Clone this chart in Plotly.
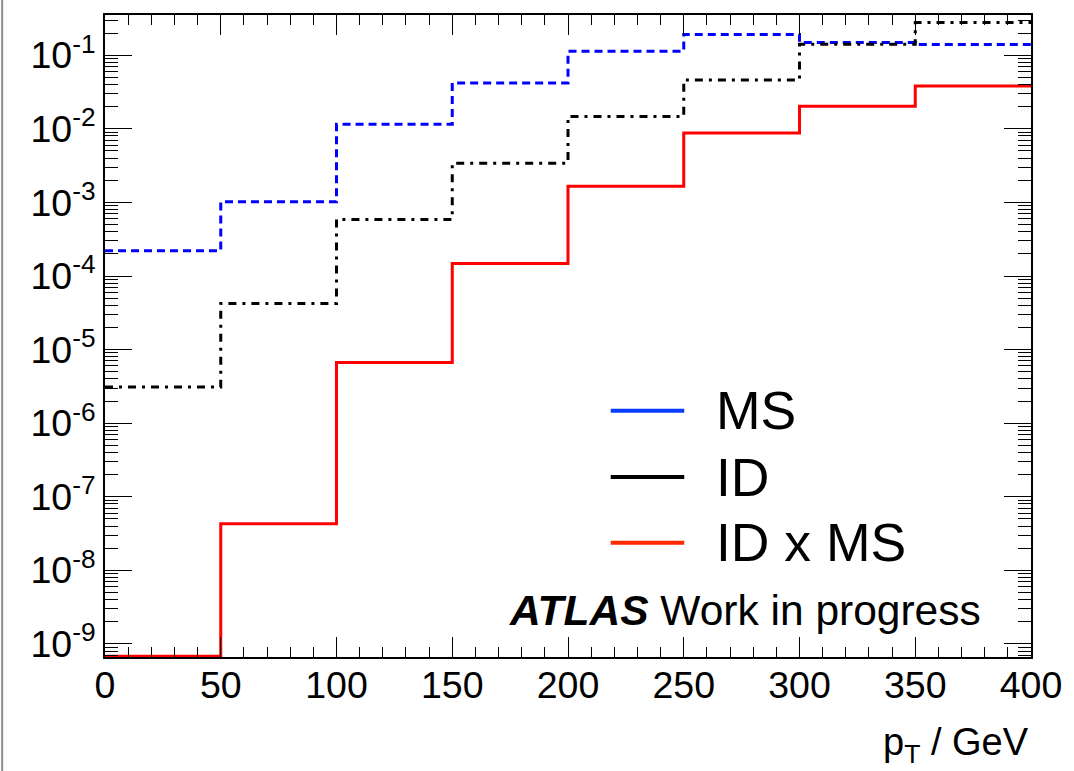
import math
import plotly.graph_objects as go

# Histogram binning in pT (GeV)
bin_edges = [0, 50, 100, 150, 200, 250, 300, 350, 400]

# Per-bin efficiencies
ms_eff = [2.2e-4, 1.02e-3, 1.15e-2, 4.2e-2, 0.113, 0.191, 0.149, 0.140]
id_eff = [3.1e-6, 4.24e-5, 5.87e-4, 3.41e-3, 1.47e-2, 4.62e-2, 0.141, 0.278]
idms_eff = [6.8e-10, 4.3e-8, 6.7e-6, 1.48e-4, 1.66e-3, 8.8e-3, 2.03e-2, 3.83e-2]

series_names = ["MS", "ID", "ID x MS"]
decade_exponents = [-9, -8, -7, -6, -5, -4, -3, -2, -1]
x_major_ticks = [0, 50, 100, 150, 200, 250, 300, 350, 400]

W, H = 1074, 771
ML, MR, MT, MB = 105, 37, 15, 114
PW, PH = W - ML - MR, H - MT - MB


def px_x(px):
    return (px - ML) / PW


def px_y(py):
    return (H - MB - py) / PH


def step_y(vals):
    return list(vals) + [vals[-1]]


FONT = "Liberation Sans, Arial, Helvetica, sans-serif"

fig = go.Figure()

styles = [
    dict(color="#0000ff", width=3, dash="8px,5px"),
    dict(color="#000000", width=3, dash="8px,6px,3px,6px"),
    dict(color="#ff0000", width=3, dash="solid"),
]
for name, vals, st in zip(series_names, [ms_eff, id_eff, idms_eff], styles):
    fig.add_trace(go.Scatter(
        x=bin_edges, y=step_y(vals), mode="lines", name=name,
        line=dict(shape="hv", **st), showlegend=False,
    ))

y_lo, y_hi = math.log10(6.65e-10), math.log10(0.352)

minor_y = [m * 10 ** d for d in range(-10, 0) for m in range(2, 10)
           if y_lo < math.log10(m * 10 ** d) < y_hi]

fig.update_xaxes(
    range=[0, 400], tickvals=x_major_ticks,
    ticks="inside", ticklen=20, tickwidth=1, tickcolor="black",
    minor=dict(dtick=10, ticks="inside", ticklen=10, tickwidth=1, tickcolor="black", showgrid=False),
    showline=True, linewidth=2, linecolor="black", mirror="allticks",
    showgrid=False, zeroline=False, ticklabelstandoff=-6,
    tickfont=dict(family=FONT, size=37.5, color="black"),
)
fig.update_yaxes(
    type="log", range=[y_lo, y_hi],
    tickvals=[10 ** d for d in decade_exponents],
    ticktext=[f"10<sup>{d}</sup>" for d in decade_exponents],
    ticks="inside", ticklen=27, tickwidth=1, tickcolor="black",
    minor=dict(tickvals=minor_y, ticks="inside", ticklen=13, tickwidth=1, tickcolor="black", showgrid=False),
    showline=True, linewidth=2, linecolor="black", mirror="allticks",
    showgrid=False, zeroline=False,
    tickfont=dict(family=FONT, size=37.5, color="black"),
)

shapes = []
annotations = []

# Legend drawn as solid keys with labels
legend_colors = ["#0a3cff", "#000000", "#ff2a00"]
legend_rows = [410.7, 477.0, 542.7]
for name, col, yrow in zip(series_names, legend_colors, legend_rows):
    shapes.append(dict(type="line", xref="paper", yref="paper",
                       x0=px_x(614), x1=px_x(688), y0=px_y(yrow), y1=px_y(yrow),
                       line=dict(color=col, width=4)))
    annotations.append(dict(xref="paper", yref="paper", x=px_x(718), y=px_y(yrow),
                            xanchor="left", yanchor="middle", showarrow=False,
                            text=name, font=dict(family=FONT, size=53.5, color="black")))

annotations.append(dict(xref="paper", yref="paper", x=px_x(510), y=px_y(610),
                        xanchor="left", yanchor="middle", showarrow=False,
                        text="<b><i>ATLAS</i></b> Work in progress",
                        font=dict(family=FONT, size=42.5, color="black")))

annotations.append(dict(xref="paper", yref="paper", x=px_x(1037), y=px_y(745),
                        xanchor="right", yanchor="middle", showarrow=False,
                        text="p<sub>T</sub> / GeV",
                        font=dict(family=FONT, size=38, color="black")))

# thin grey border on the left edge of the canvas
shapes.append(dict(type="line", xref="paper", yref="paper",
                   x0=px_x(1.5), x1=px_x(1.5), y0=px_y(H), y1=px_y(0),
                   line=dict(color="#8c8c8c", width=2)))

fig.update_layout(
    width=W, height=H,
    margin=dict(l=ML, r=MR, t=MT, b=MB),
    paper_bgcolor="white", plot_bgcolor="white",
    shapes=shapes, annotations=annotations,
    showlegend=False,
)

fig.write_html("out.html")
